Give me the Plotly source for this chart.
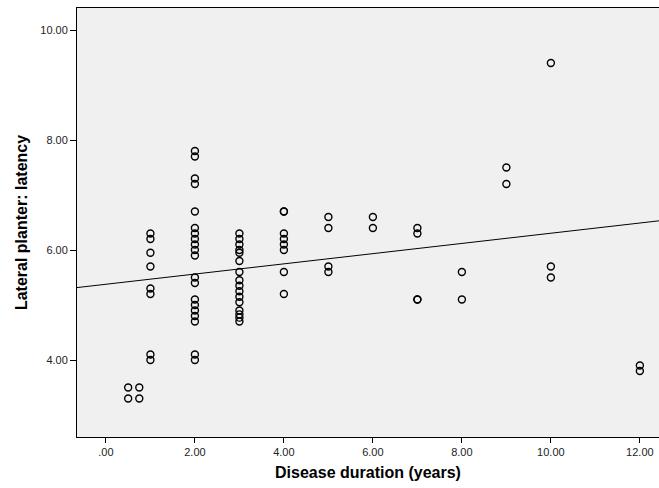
import plotly.graph_objects as go

# Data (x = disease duration, y = latency)
duration = (
    [0.5, 0.5, 0.75, 0.75]
    + [1] * 8
    + [2] * 20
    + [3] * 16
    + [4] * 8
    + [5] * 4
    + [6] * 2
    + [7] * 4
    + [8] * 2
    + [9] * 2
    + [10] * 3
    + [12] * 2
)
latency = (
    [3.5, 3.3, 3.5, 3.3]
    + [6.3, 6.2, 5.95, 5.7, 5.3, 5.2, 4.1, 4.0]
    + [7.8, 7.7, 7.3, 7.2, 6.7, 6.4, 6.3, 6.2, 6.1, 6.0, 5.9, 5.5, 5.4, 5.1, 5.0, 4.9, 4.8, 4.7, 4.1, 4.0]
    + [6.3, 6.2, 6.1, 6.0, 5.95, 5.8, 5.6, 5.45, 5.35, 5.25, 5.15, 5.05, 4.9, 4.83, 4.77, 4.7]
    + [6.7, 6.7, 6.3, 6.2, 6.1, 6.0, 5.6, 5.2]
    + [6.6, 6.4, 5.7, 5.6]
    + [6.6, 6.4]
    + [6.4, 6.3, 5.1, 5.1]
    + [5.6, 5.1]
    + [7.5, 7.2]
    + [9.4, 5.7, 5.5]
    + [3.9, 3.8]
)

fit_intercept = 5.377
fit_slope = 0.0928

x_range = [-0.65, 12.43]
y_range = [2.6, 10.4]

x_tickvals = [0, 2, 4, 6, 8, 10, 12]
x_ticktext = [".00", "2.00", "4.00", "6.00", "8.00", "10.00", "12.00"]
y_tickvals = [4, 6, 8, 10]
y_ticktext = ["4.00", "6.00", "8.00", "10.00"]

fit_x = x_range
fit_y = [fit_intercept + fit_slope * v for v in fit_x]

fig = go.Figure()
fig.add_trace(go.Scatter(
    x=fit_x, y=fit_y, mode="lines",
    line=dict(color="black", width=1), hoverinfo="skip", showlegend=False,
))
fig.add_trace(go.Scatter(
    x=duration, y=latency, mode="markers",
    marker=dict(symbol="circle-open", size=7, color="black", line=dict(width=1.4)),
    showlegend=False,
))

font_fam = "Liberation Sans, Arial, sans-serif"
fig.update_layout(
    width=659, height=488,
    margin=dict(l=77, r=0, t=8, b=51),
    paper_bgcolor="white",
    plot_bgcolor="#f0f0f0",
    font=dict(family=font_fam, size=11, color="black"),
    xaxis=dict(
        range=x_range, tickvals=x_tickvals, ticktext=x_ticktext,
        showgrid=False, zeroline=False,
        showline=True, linecolor="black", linewidth=1, mirror=True,
        ticks="outside", ticklen=5, tickcolor="black",
        tickfont=dict(size=11, color="#222"),
        title=dict(text="<b>Disease duration (years)</b>", font=dict(size=16), standoff=9),
    ),
    yaxis=dict(
        range=y_range, tickvals=y_tickvals, ticktext=y_ticktext,
        showgrid=False, zeroline=False,
        showline=True, linecolor="black", linewidth=1,
        ticks="outside", ticklen=6, tickcolor="black",
        tickfont=dict(size=11, color="#222"),
        title=dict(text="<b>Lateral planter: latency</b>", font=dict(size=16), standoff=8),
    ),
)

fig.write_html("out.html")
